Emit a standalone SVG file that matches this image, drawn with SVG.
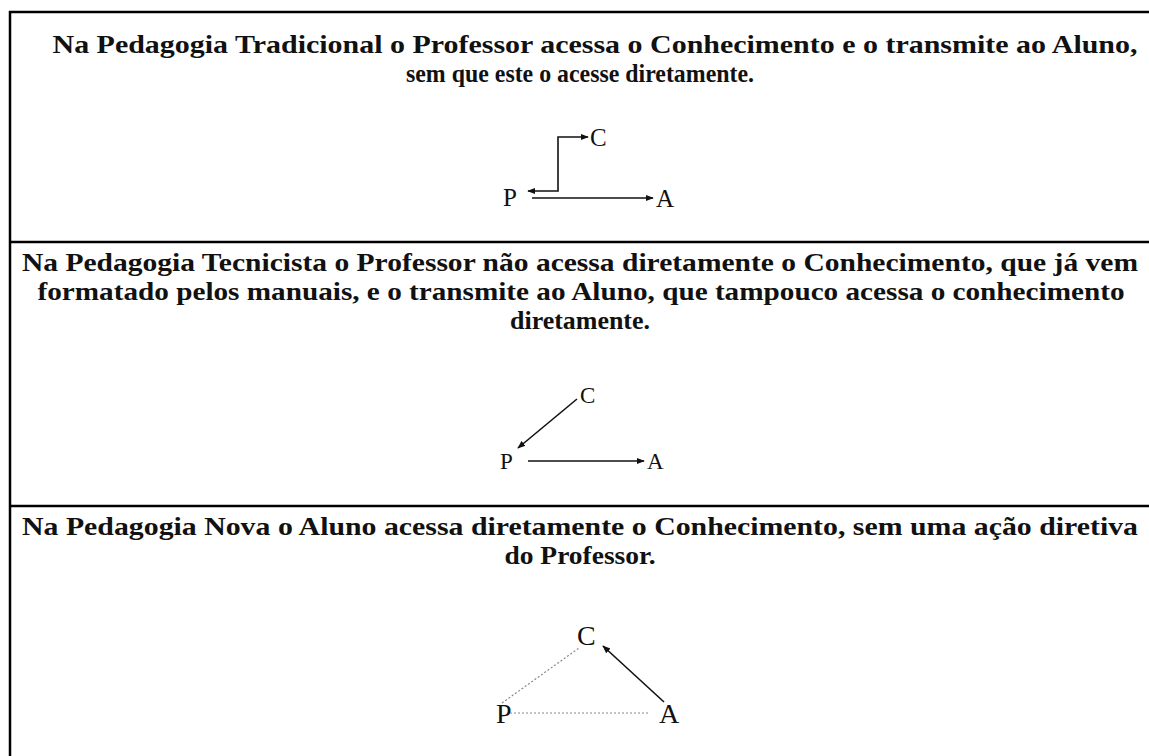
<svg xmlns="http://www.w3.org/2000/svg" width="1149" height="756" viewBox="0 0 1149 756">
<style>
.t{font-family:"Liberation Serif","Times New Roman",serif;font-weight:bold;font-size:25px;fill:#111;text-anchor:middle}
.l{font-family:"Liberation Serif","Times New Roman",serif;fill:#111}
.c{stroke:#111;stroke-width:1.6;fill:none}
.d{stroke:#888;stroke-width:1.2;stroke-dasharray:2 2;fill:none}
.f{stroke:#000;stroke-width:2.5;fill:none}
</style>
<defs>
<marker id="ah" viewBox="0 0 10 10" refX="9" refY="5" markerWidth="5" markerHeight="5" orient="auto-start-reverse" markerUnits="strokeWidth">
<path d="M0,1 L10,5 L0,9 Z" fill="#111"/>
</marker>
</defs>
<rect width="1149" height="756" fill="#fff"/>
<g id="frame">
<path class="f" d="M10 760 V12 H1155"/>
<path class="f" d="M10 242 H1155"/>
<path class="f" d="M10 506 H1155"/>
</g>
<g id="sec1">
<text class="t" x="595" y="53" textLength="1085" lengthAdjust="spacingAndGlyphs">Na Pedagogia Tradicional o Professor acessa o Conhecimento e o transmite ao Aluno,</text>
<text class="t" x="580" y="82" textLength="348" lengthAdjust="spacingAndGlyphs">sem que este o acesse diretamente.</text>
</g>
<g id="sec2">
<text class="t" x="580" y="271" textLength="1116" lengthAdjust="spacingAndGlyphs">Na Pedagogia Tecnicista o Professor não acessa diretamente o Conhecimento, que já vem</text>
<text class="t" x="581" y="300" textLength="1087" lengthAdjust="spacingAndGlyphs">formatado pelos manuais, e o transmite ao Aluno, que tampouco acessa o conhecimento</text>
<text class="t" x="580" y="329" textLength="140" lengthAdjust="spacingAndGlyphs">diretamente.</text>
</g>
<g id="sec3">
<text class="t" x="580" y="535" textLength="1116" lengthAdjust="spacingAndGlyphs">Na Pedagogia Nova o Aluno acessa diretamente o Conhecimento, sem uma ação diretiva</text>
<text class="t" x="580" y="564" textLength="151" lengthAdjust="spacingAndGlyphs">do Professor.</text>
</g>
<g id="d1-P"><text class="l" x="503" y="206" font-size="25">P</text></g>
<g id="d1-A"><text class="l" x="656" y="207" font-size="25">A</text></g>
<g id="d1-C"><text class="l" x="590" y="146" font-size="25">C</text></g>
<g id="d2-P"><text class="l" x="500" y="469" font-size="23">P</text></g>
<g id="d2-A"><text class="l" x="647" y="469" font-size="23">A</text></g>
<g id="d2-C"><text class="l" x="580" y="403" font-size="23">C</text></g>
<g id="d3-P"><text class="l" x="496" y="723" font-size="28">P</text></g>
<g id="d3-A"><text class="l" x="659" y="723" font-size="28">A</text></g>
<g id="d3-C"><text class="l" x="577" y="645" font-size="28">C</text></g>
<g id="connectors">
<path class="c" d="M528 191 H558 V137 H588" marker-start="url(#ah)" marker-end="url(#ah)"/>
<path class="c" d="M532 198 H653" marker-end="url(#ah)"/>
<path class="c" d="M577 399 L518 448" marker-end="url(#ah)"/>
<path class="c" d="M528 461 H644" marker-end="url(#ah)"/>
<path class="d" d="M502 703 L579 648"/>
<path class="d" d="M510 713 H648"/>
<path class="c" d="M664 702 L603 646" marker-end="url(#ah)"/>
</g>
</svg>
